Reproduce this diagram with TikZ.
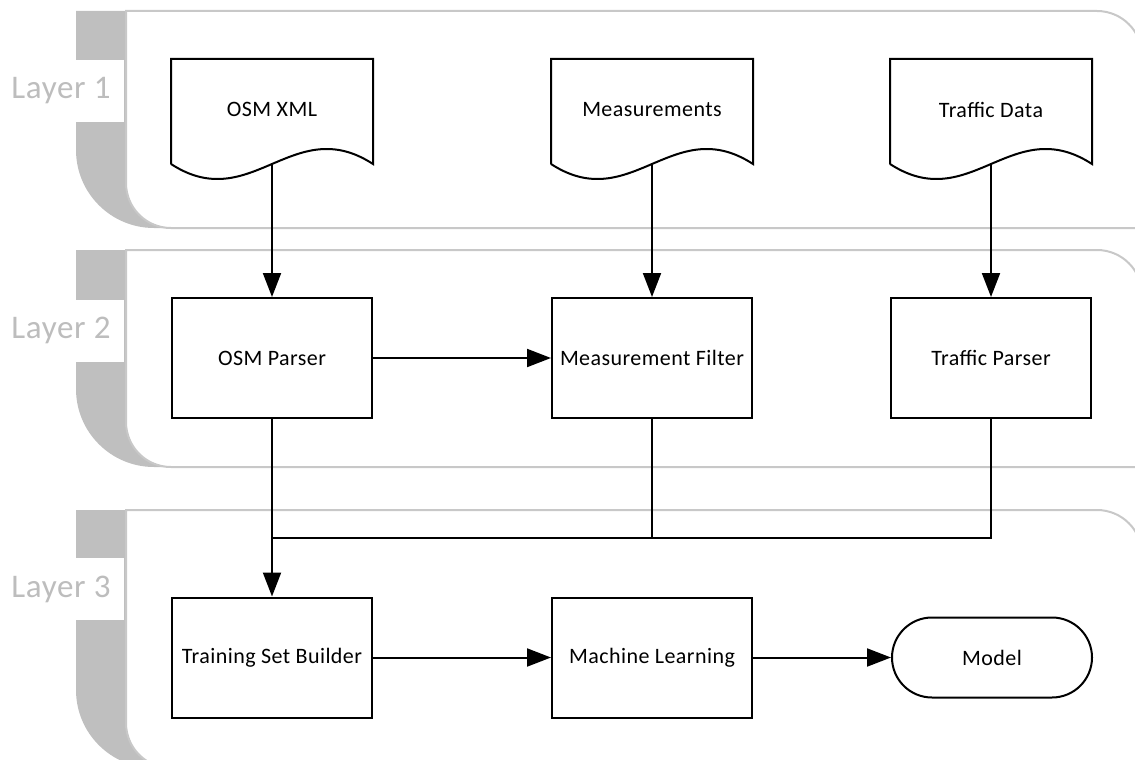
\documentclass[tikz,border=0pt]{standalone}
\usepackage{fontspec}
\setmainfont{Carlito}[LetterSpace=2]
\usetikzlibrary{arrows.meta}
\definecolor{bandgray}{HTML}{BFBFBF}
\definecolor{edgegray}{HTML}{C8C8C8}
\definecolor{labelgray}{HTML}{BDBDBD}

\begin{document}
\begin{tikzpicture}[x=1pt, y=-1pt, line width=2pt,
		font=\fontsize{22}{26}\selectfont,
		box/.style={draw, minimum width=200pt, minimum height=120pt, inner sep=0pt},
		doc/.style={minimum width=200pt, minimum height=103pt, inner sep=0pt},
		term/.style={draw, rounded corners=40pt, minimum width=200pt, minimum height=80pt, inner sep=0pt},
		laybox/.style={fill=white, text=labelgray, minimum width=125pt, minimum height=62pt, inner sep=0pt, font=\fontsize{33}{37}\selectfont},
		lane/.style={fill=white, draw=edgegray, line width=2pt},
		flow/.style={-{Triangle[length=24pt, width=18pt]}}]
		\useasboundingbox (0,0) rectangle (1135,760);
		\clip (0,0) rectangle (1135,760);

		% Layer 1
		\fill[bandgray] (76,11) -- (76,150) arc[start angle=180, end angle=90, radius=78] -- (300,228) -- (300,11) -- cycle;
		\node[laybox] (lay1) at (61,91) {Layer 1};
		\draw[lane] (126,11) -- (1097,11) arc[start angle=-90, end angle=0, radius=45] -- (1142,228) -- (171,228) arc[start angle=90, end angle=180, radius=45] -- cycle;

		% Layer 2
		\fill[bandgray] (76,250) -- (76,389) arc[start angle=180, end angle=90, radius=78] -- (300,467) -- (300,250) -- cycle;
		\node[laybox] (lay2) at (61,330.5) {Layer 2};
		\draw[lane] (126,250) -- (1097,250) arc[start angle=-90, end angle=0, radius=45] -- (1142,467) -- (171,467) arc[start angle=90, end angle=180, radius=45] -- cycle;

		% Layer 3
		\fill[bandgray] (76,510) -- (76,690) arc[start angle=180, end angle=90, radius=78] -- (300,768) -- (300,510) -- cycle;
		\node[laybox] (lay3) at (61,589) {Layer 3};
		\draw[lane] (126,510) -- (1097,510) arc[start angle=-90, end angle=0, radius=45] -- (1142,768) -- (171,768) arc[start angle=90, end angle=180, radius=45] -- cycle;

		% Inputs
		\node[doc] (osmxml) at (272,111.5) {\raisebox{4pt}{OSM XML}};
		\draw (osmxml.south west) -- (osmxml.north west) -- (osmxml.north east) -- (osmxml.south east) .. controls +(-80,-52) and +(80,52) .. (osmxml.south west);
		\node[doc] (meas) at (652,111.5) {\raisebox{4pt}{Measurements}};
		\draw (meas.south west) -- (meas.north west) -- (meas.north east) -- (meas.south east) .. controls +(-80,-52) and +(80,52) .. (meas.south west);
		\node[doc] (traffic) at (991,111.5) {\raisebox{4pt}{Traffic Data}};
		\draw (traffic.south west) -- (traffic.north west) -- (traffic.north east) -- (traffic.south east) .. controls +(-80,-52) and +(80,52) .. (traffic.south west);

		% Parsers
		\node[box] (osmparser) at (272,358) {OSM Parser};
		\node[box] (mfilter) at (652,358) {Measurement Filter};
		\node[box] (tparser) at (991,358) {Traffic Parser};

		% Learning
		\node[box] (tsb) at (272,657.5) {Training Set Builder};
		\node[box] (mlearn) at (652,657.5) {Machine Learning};
		\node[term] (model) at (992,657.5) {Model};

		% Connections
		\draw[flow] (osmxml.south) -- (osmparser.north);
		\draw[flow] (meas.south) -- (mfilter.north);
		\draw[flow] (traffic.south) -- (tparser.north);
		\draw[flow] (osmparser) -- (mfilter);
		\coordinate (join) at (272,538);
		\draw (mfilter.south) |- (join);
		\draw (tparser.south) |- (join);
		\draw[flow] (osmparser.south) -- (tsb.north);
		\draw[flow] (tsb) -- (mlearn);
		\draw[flow] (mlearn) -- (model);
	\end{tikzpicture}
\end{document}
